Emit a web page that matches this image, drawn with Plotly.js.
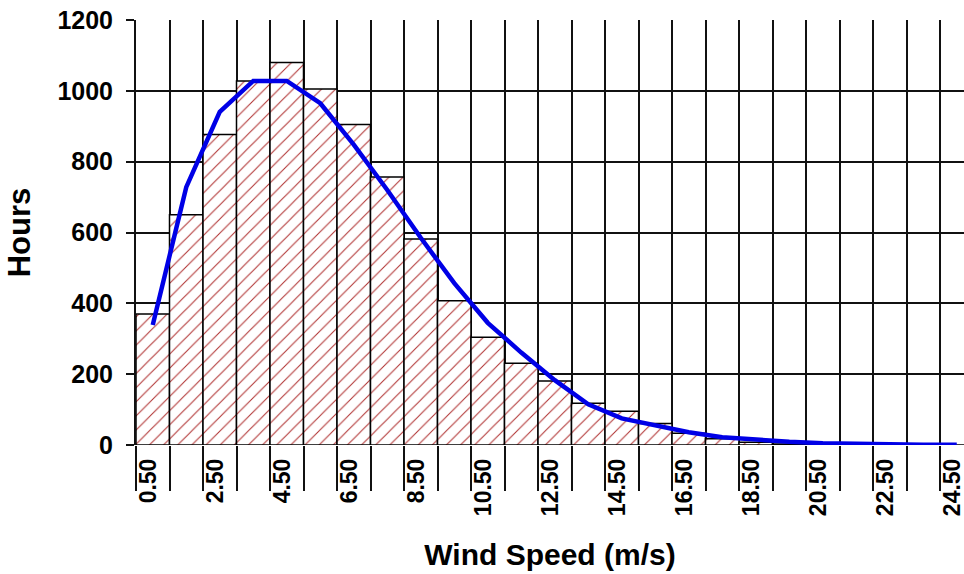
<!DOCTYPE html>
<html>
<head>
<meta charset="utf-8">
<script src="https://cdn.plot.ly/plotly-3.0.1.min.js"></script>
<style>
  html, body { margin: 0; padding: 0; background: #fff; overflow: hidden; }
  #chart { width: 964px; height: 574px; }
</style>
</head>
<body>
<div id="chart"></div>
<script>
// Wind speed bin centres (m/s)
const windSpeed = [0.5, 1.5, 2.5, 3.5, 4.5, 5.5, 6.5, 7.5, 8.5, 9.5, 10.5, 11.5, 12.5,
                   13.5, 14.5, 15.5, 16.5, 17.5, 18.5, 19.5, 20.5, 21.5, 22.5, 23.5, 24.5];
// Measured hours per bin (hatched bars)
const measuredHours = [370, 650, 877, 1028, 1080, 1005, 905, 757, 582, 407, 304, 231, 181,
                       118, 95, 61, 33, 18, 8, 3, 1, 0, 0, 0, 0];
// Fitted distribution (blue line)
const fittedHours = [339, 728, 941, 1028, 1028, 965, 848, 720, 585, 457, 345, 261, 183,
                     115, 75, 55, 36, 22, 14, 9, 5, 3, 2, 1, 1];
// Tick labels shown on the x axis
const tickPositions = [0.5, 2.5, 4.5, 6.5, 8.5, 10.5, 12.5, 14.5, 16.5, 18.5, 20.5, 22.5, 24.5];
const tickLabels = ['0.50', '2.50', '4.50', '6.50', '8.50', '10.50', '12.50', '14.50',
                    '16.50', '18.50', '20.50', '22.50', '24.50'];
// Bin boundaries (grid lines)
const binEdges = [0, 1, 2, 3, 4, 5, 6, 7, 8, 9, 10, 11, 12, 13, 14, 15, 16, 17, 18, 19, 20, 21, 22, 23, 24];
const yTicks = [0, 200, 400, 600, 800, 1000, 1200];

const FONT = 'Liberation Sans, Arial, sans-serif';
const xRange = [0, 24.716];

const bars = {
  type: 'bar',
  x: windSpeed,
  y: measuredHours,
  width: 1,
  xaxis: 'x',
  yaxis: 'y',
  marker: {
    color: '#ffffff',
    line: { color: '#000000', width: 1.5 },
    pattern: { shape: '/', fgcolor: '#b03030', bgcolor: '#ffffff', size: 10, solidity: 0.1 }
  },
  hoverinfo: 'skip'
};

const curve = {
  type: 'scatter',
  mode: 'lines',
  x: windSpeed,
  y: fittedHours,
  xaxis: 'x2',
  yaxis: 'y',
  line: { color: '#0000e6', width: 4.5 },
  hoverinfo: 'skip'
};

const layout = {
  width: 964,
  height: 574,
  margin: { l: 136, r: 0, t: 20, b: 129 },
  paper_bgcolor: '#ffffff',
  plot_bgcolor: '#ffffff',
  showlegend: false,
  bargap: 0,
  font: { family: FONT, color: '#000000' },
  xaxis: {
    range: xRange,
    tickmode: 'array',
    tickvals: binEdges,
    showticklabels: false,
    showgrid: true,
    gridcolor: '#111111',
    gridwidth: 2,
    ticks: 'outside',
    ticklen: 45,
    tickwidth: 2,
    tickcolor: '#111111',
    zeroline: false,
    showline: false
  },
  xaxis2: {
    range: xRange,
    overlaying: 'x',
    anchor: 'y',
    side: 'bottom',
    tickmode: 'array',
    tickvals: tickPositions,
    ticktext: tickLabels,
    tickangle: -90,
    ticks: '',
    ticklabelstandoff: 8,
    ticklabelshift: -4,
    ticklabeloverflow: 'allow',
    showgrid: false,
    zeroline: false,
    showline: false,
    tickfont: { family: FONT, size: 23, weight: 'bold', color: '#000000' },
    title: {
      text: 'Wind Speed (m/s)',
      font: { family: FONT, size: 30, weight: 'bold', color: '#000000' },
      standoff: 28
    }
  },
  yaxis: {
    range: [0, 1200],
    tickmode: 'array',
    tickvals: yTicks,
    showgrid: true,
    gridcolor: '#111111',
    gridwidth: 2,
    ticks: 'outside',
    ticklen: 8,
    tickwidth: 2,
    tickcolor: '#111111',
    ticklabelstandoff: 8,
    zeroline: false,
    showline: true,
    linecolor: '#111111',
    linewidth: 2,
    tickfont: { family: FONT, size: 25, weight: 'bold', color: '#000000' },
    title: {
      text: 'Hours',
      font: { family: FONT, size: 31, weight: 'bold', color: '#000000' },
      standoff: 18
    }
  }
};

Plotly.newPlot('chart', [bars, curve], layout, { staticPlot: true, displayModeBar: false });
</script>
</body>
</html>
